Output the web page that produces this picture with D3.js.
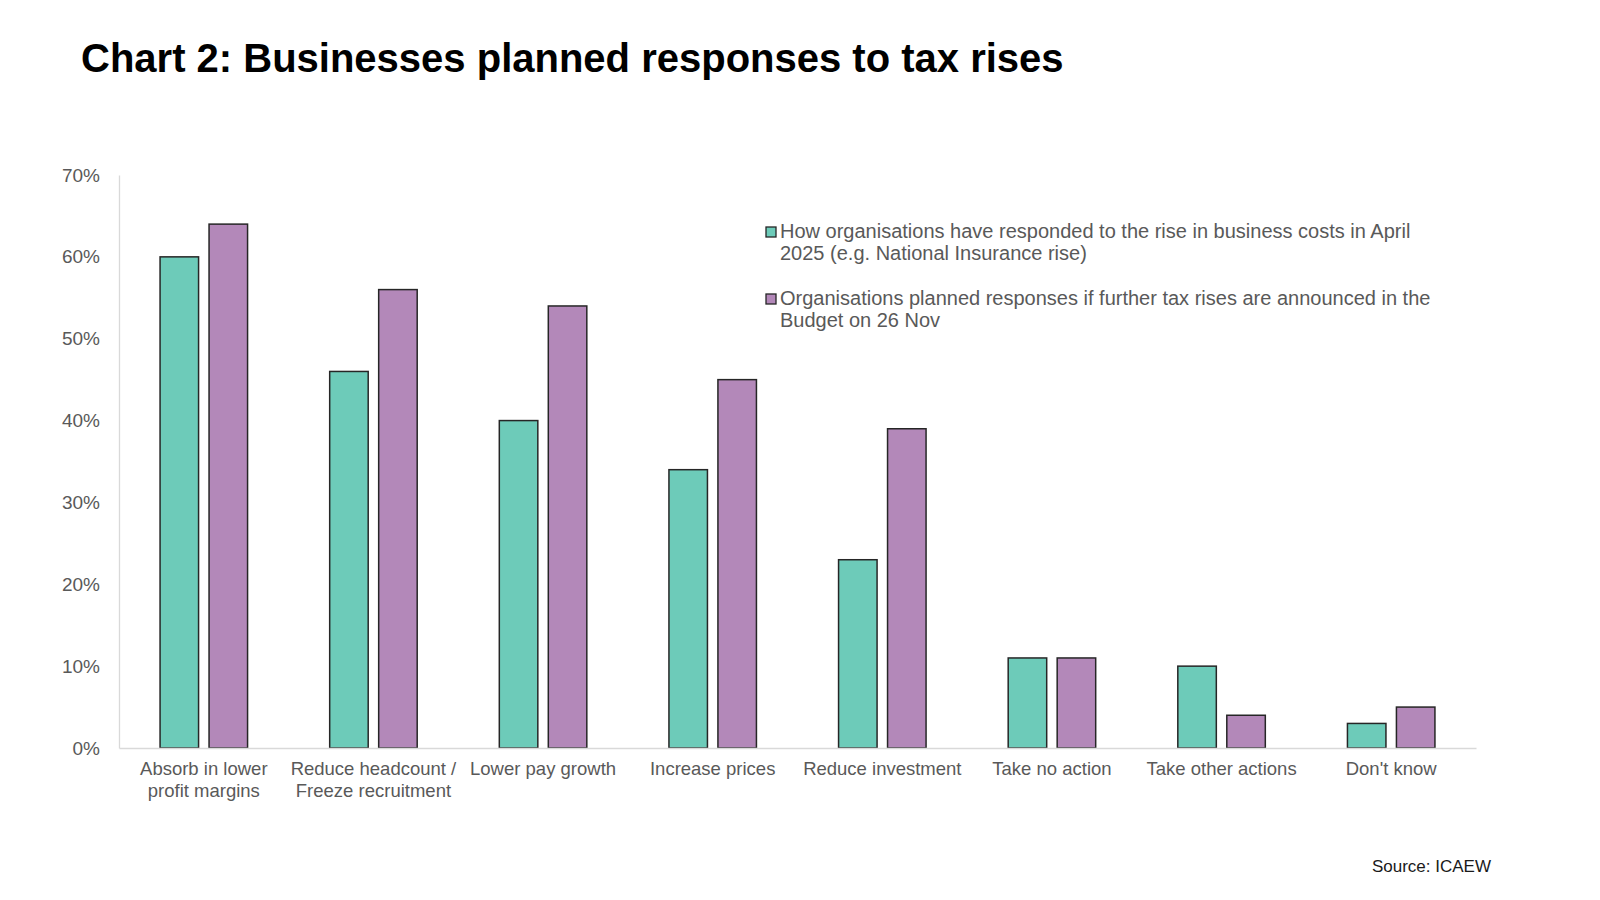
<!DOCTYPE html>
<html>
<head>
<meta charset="utf-8">
<script src="https://cdn.jsdelivr.net/npm/d3@7"></script>
<style>
  html, body { margin: 0; padding: 0; background: #fff; }
  svg { display: block; font-family: "Liberation Sans", Arial, sans-serif; }
</style>
</head>
<body>
<div id="chart"></div>
<script>
// Chart data
const categories = [
  ["Absorb in lower", "profit margins"],
  ["Reduce headcount /", "Freeze recruitment"],
  ["Lower pay growth"],
  ["Increase prices"],
  ["Reduce investment"],
  ["Take no action"],
  ["Take other actions"],
  ["Don't know"]
];
const respondedApril = [60, 46, 40, 34, 23, 11, 10, 3];
const plannedBudget = [64, 56, 54, 45, 39, 11, 4, 5];
const seriesNames = [
  ["How organisations have responded to the rise in business costs in April", "2025 (e.g. National Insurance rise)"],
  ["Organisations planned responses if further tax rises are announced in the", "Budget on 26 Nov"]
];
const yTicks = [0, 10, 20, 30, 40, 50, 60, 70];

const colors = ["#6dcbb9", "#b388b9"];
const width = 1600, height = 900;
const margin = { top: 175, bottom: 152, left: 119, right: 124 };

const svg = d3.select("#chart")
  .append("svg")
  .attr("width", width)
  .attr("height", height)
  .attr("viewBox", [0, 0, width, height]);

// Title
svg.append("text")
  .attr("x", 81)
  .attr("y", 72)
  .attr("font-size", "40px")
  .attr("font-weight", "bold")
  .attr("fill", "#000")
  .text("Chart 2: Businesses planned responses to tax rises");

const x = d3.scaleBand()
  .domain(d3.range(categories.length))
  .range([margin.left, width - margin.right]);

const groupWidth = 87.5;
const xs = d3.scaleBand()
  .domain([0, 1])
  .range([0, groupWidth])
  .paddingInner(0.214);

const y = d3.scaleLinear()
  .domain([0, 70])
  .range([height - margin.bottom, margin.top]);

// Y axis (only a light line plus labels)
svg.append("g")
  .attr("transform", `translate(${margin.left},0)`)
  .call(d3.axisLeft(y).tickValues(yTicks).tickSize(0).tickPadding(19).tickFormat(d => d + "%"))
  .call(g => g.select(".domain").attr("stroke", "#d9d9d9").attr("stroke-width", 1.3))
  .call(g => g.selectAll("text")
    .attr("font-size", "19px")
    .attr("fill", "#595959")
    .attr("font-family", "Liberation Sans, Arial, sans-serif"));

// Bars
const rows = categories.map((c, i) => [respondedApril[i], plannedBudget[i]]);
const groups = svg.append("g")
  .selectAll("g")
  .data(rows)
  .join("g")
  .attr("transform", (d, i) => `translate(${x(i) + (x.bandwidth() - groupWidth) / 2},0)`);

groups.selectAll("rect")
  .data(d => d.map((v, s) => ({ v, s })))
  .join("rect")
  .attr("x", d => xs(d.s))
  .attr("y", d => y(d.v))
  .attr("width", xs.bandwidth())
  .attr("height", d => y(0) - y(d.v))
  .attr("fill", d => colors[d.s])
  .attr("stroke", "#262626")
  .attr("stroke-width", 1.5);

// X axis line and category labels
svg.append("g")
  .attr("transform", `translate(0,${y(0)})`)
  .call(d3.axisBottom(x).tickSize(0).tickFormat(""))
  .call(g => g.select(".domain").attr("stroke", "#d9d9d9").attr("stroke-width", 1.3));

svg.append("g")
  .selectAll("text")
  .data(categories)
  .join("text")
  .attr("x", (d, i) => x(i) + x.bandwidth() / 2)
  .attr("y", y(0) + 27)
  .attr("text-anchor", "middle")
  .attr("font-size", "18.5px")
  .attr("fill", "#595959")
  .selectAll("tspan")
  .data(d => d)
  .join("tspan")
  .attr("x", function () { return this.parentNode.getAttribute("x"); })
  .attr("dy", (d, i) => i === 0 ? 0 : 21.5)
  .text(d => d);

// Legend
const legend = svg.append("g")
  .selectAll("g")
  .data(seriesNames)
  .join("g")
  .attr("transform", (d, i) => `translate(766,${238 + i * 67})`);

legend.append("rect")
  .attr("x", 0)
  .attr("y", -11)
  .attr("width", 10)
  .attr("height", 10)
  .attr("fill", (d, i) => colors[i])
  .attr("stroke", "#262626")
  .attr("stroke-width", 1.3);

legend.append("text")
  .attr("font-size", "20px")
  .attr("fill", "#595959")
  .selectAll("tspan")
  .data(d => d)
  .join("tspan")
  .attr("x", 14)
  .attr("y", (d, i) => i * 22)
  .text(d => d);

// Source
svg.append("text")
  .attr("x", 1491)
  .attr("y", 872)
  .attr("text-anchor", "end")
  .attr("font-size", "17px")
  .attr("fill", "#1a1a1a")
  .text("Source: ICAEW");
</script>
</body>
</html>
